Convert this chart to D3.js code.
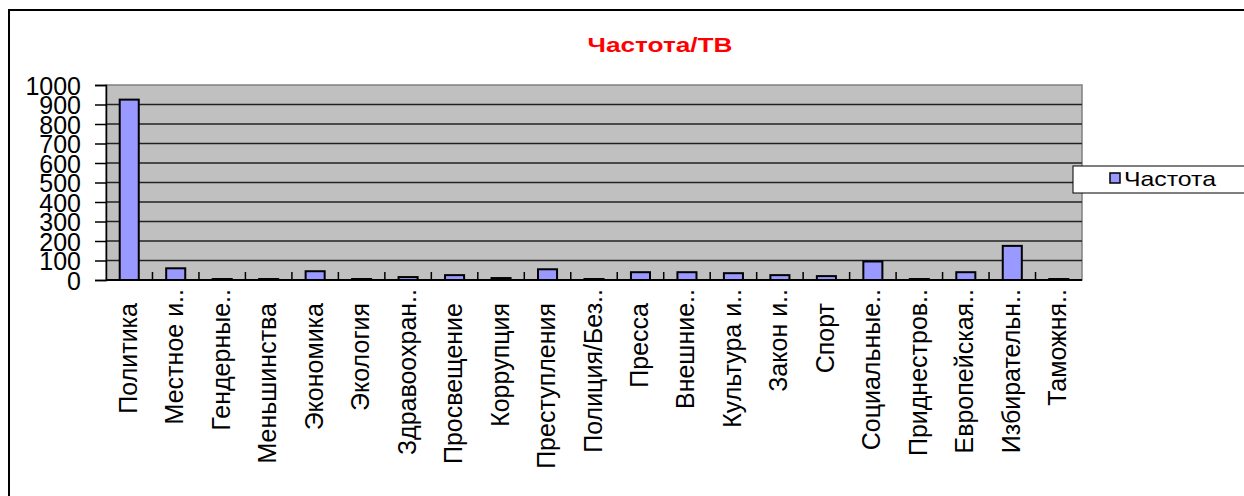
<!DOCTYPE html>
<html><head><meta charset="utf-8">
<script src="https://cdn.jsdelivr.net/npm/d3@7"></script>
<style>body{margin:0;background:#fff}svg{display:block}</style>
</head><body><svg id="c" width="1244" height="496"></svg>
<script>
const title = "Частота/ТВ";
const seriesName = "Частота";
const categories = ["Политика","Местное и..","Гендерные..","Меньшинства","Экономика","Экология","Здравоохран..","Просвещение","Коррупция","Преступления","Полиция/Без..","Пресса","Внешние..","Культура и..","Закон и..","Спорт","Социальные..","Приднестров..","Европейская..","Избирательн..","Таможня.."];
const values = [925,60,5,5,45,5,15,25,10,55,5,40,40,35,25,20,95,5,40,175,5];
const yTicks = [0,100,200,300,400,500,600,700,800,900,1000];

const svg = d3.select("#c");
const font = "'Liberation Sans', Arial, sans-serif";
const L = 106, R = 1082, T = 85, B = 280;

// outer chart border
svg.append("rect").attr("x",9).attr("y",10).attr("width",1300).attr("height",600)
  .attr("fill","#fff").attr("stroke","#000").attr("stroke-width",2);

svg.append("text").attr("x",660).attr("y",52).attr("text-anchor","middle")
  .attr("font-family",font).attr("font-weight","bold").attr("font-size",20)
  .attr("textLength",145).attr("lengthAdjust","spacingAndGlyphs")
  .attr("fill","#ff0000").text(title);

const x = d3.scaleBand().domain(categories).range([L,R]).paddingInner(0.59).paddingOuter(0.295);
const y = d3.scaleLinear().domain([0,1000]).range([B,T]);

// plot area
svg.append("rect").attr("x",L).attr("y",T).attr("width",R-L).attr("height",B-T)
  .attr("fill","#c0c0c0").attr("stroke","#808080").attr("stroke-width",1.5);

// gridlines
svg.append("g").selectAll("line").data(yTicks.filter(d=>d>0 && d<1000)).join("line")
  .attr("x1",L).attr("x2",R).attr("y1",d=>y(d)).attr("y2",d=>y(d))
  .attr("stroke","#222").attr("stroke-width",1.5);

// bars
svg.append("g").selectAll("rect").data(values).join("rect")
  .attr("x",(d,i)=>x(categories[i])).attr("width",x.bandwidth())
  .attr("y",d=>y(d)).attr("height",d=>B-y(d))
  .attr("fill","#9999ff").attr("stroke","#000").attr("stroke-width",2);

// y axis
const ya = svg.append("g").attr("transform",`translate(${L},0)`)
  .call(d3.axisLeft(y).tickValues(yTicks).tickSize(11).tickPadding(14).tickFormat(d3.format("d")));
ya.select(".domain").attr("stroke","#000").attr("stroke-width",1.5);
ya.selectAll(".tick line").attr("stroke","#000").attr("stroke-width",1.5);
ya.selectAll(".tick text").attr("font-family",font).attr("font-size",25).attr("fill","#000").attr("dy","0.36em");

// x axis line + inside ticks between categories
const gap = (x.step()-x.bandwidth())/2;
svg.append("line").attr("x1",L).attr("x2",R).attr("y1",B).attr("y2",B).attr("stroke","#000").attr("stroke-width",2);
svg.append("g").selectAll("line").data(categories.slice(1)).join("line")
  .attr("x1",d=>x(d)-gap).attr("x2",d=>x(d)-gap)
  .attr("y1",B).attr("y2",B-8).attr("stroke","#000").attr("stroke-width",1.5);

// x labels
svg.append("g").selectAll("text").data(categories).join("text")
  .attr("transform",d=>`translate(${x(d)+x.bandwidth()/2},${d.endsWith("..")?289:303}) rotate(-90)`)
  .attr("text-anchor","end").attr("dy","0.3em")
  .attr("font-family",font).attr("font-size",25).attr("fill","#000").text(d=>d);

// legend
const lg = svg.append("g");
lg.append("rect").attr("x",1073).attr("y",166).attr("width",200).attr("height",27)
  .attr("fill","#fff").attr("stroke","#000").attr("stroke-width",1);
lg.append("rect").attr("x",1110).attr("y",173).attr("width",10).attr("height",10)
  .attr("fill","#9999ff").attr("stroke","#000").attr("stroke-width",1.5);
lg.append("text").attr("x",1124).attr("y",186).attr("font-family",font).attr("font-size",21)
  .attr("textLength",92).attr("lengthAdjust","spacingAndGlyphs")
  .attr("fill","#000").text(seriesName);
</script></body></html>
